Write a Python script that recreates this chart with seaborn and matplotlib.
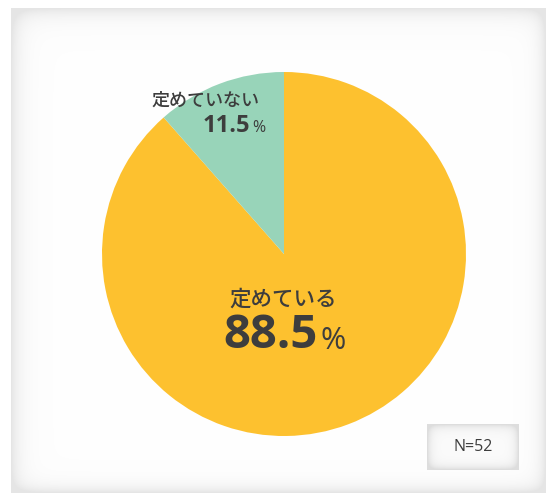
import numpy as np
import matplotlib
matplotlib.use("Agg")
import matplotlib.pyplot as plt
import seaborn as sns

# Survey result: share of respondents
categories = ["定めている", "定めていない"]
shares = [88.5, 11.5]
sample_size = 52
colors = ["#FDC12F", "#98D4B9"]

sns.set_theme(style="white")
plt.rcParams["font.family"] = ["Noto Sans CJK JP", "DejaVu Sans"]
num_font = ["Open Sans", "DejaVu Sans"]

W, H = 550, 495
fig = plt.figure(figsize=(W / 100, H / 100), dpi=100)
fig.patch.set_facecolor("white")


def inset_panel(w, h, depth, edge_gray, inner_gray=1.0):
    """Image of a flat panel with a soft inner shadow along its edges."""
    yy, xx = np.mgrid[0:h, 0:w].astype(float)
    d_left, d_right = xx, w - 1 - xx
    d_top, d_bottom = yy, h - 1 - yy
    shade = (np.exp(-d_left / depth[0]) + np.exp(-d_top / depth[1])
             + np.exp(-d_right / depth[2]) + np.exp(-d_bottom / depth[3]))
    shade = np.clip(shade, 0, 1)
    val = inner_gray - (inner_gray - edge_gray) * shade
    return np.dstack([val, val, val])


# Background panel
px0, py0, px1, py1 = 11, 8, 546, 493
bg = fig.add_axes([px0 / W, 1 - py1 / H, (px1 - px0) / W, (py1 - py0) / H])
bg.imshow(inset_panel(px1 - px0, py1 - py0, (9, 9, 7, 7), 0.90, 0.997),
          aspect="auto", interpolation="bilinear")
bg.set_axis_off()

# Main drawing area in pixel coordinates (y up)
ax = fig.add_axes([0, 0, 1, 1])
ax.patch.set_alpha(0)
cx, cy, r = 284, H - 254, 182
ax.pie(shares, colors=colors, startangle=90, counterclock=False,
       center=(cx, cy), radius=r, wedgeprops=dict(linewidth=0))
ax.set_xlim(0, W)
ax.set_ylim(0, H)
ax.set_aspect("equal")
ax.set_axis_off()

text_color = "#3d3d3d"

# Large slice label
ax.text(283, H - 300, categories[0], ha="center", va="center",
        fontsize=15.5, color=text_color, fontweight="medium")
ax.text(318, H - 336, f"{shares[0]:.1f}", ha="right", va="center",
        fontsize=34, color=text_color, fontweight="bold", family=num_font)
ax.text(320, H - 341, "%", ha="left", va="center",
        fontsize=22, color=text_color, fontweight="medium", family=num_font)

# Small slice label
ax.text(205, H - 101, categories[1], ha="center", va="center",
        fontsize=13, color=text_color, fontweight="medium")
ax.text(250, H - 126, f"{shares[1]:.1f}", ha="right", va="center",
        fontsize=17, color=text_color, fontweight="bold", family=num_font)
ax.text(252, H - 128, "%", ha="left", va="center",
        fontsize=11.5, color=text_color, fontweight="medium", family=num_font)

# Sample size box
bx0, by0, bx1, by1 = 427, 424, 519, 470
box = fig.add_axes([bx0 / W, 1 - by1 / H, (bx1 - bx0) / W, (by1 - by0) / H])
box.imshow(inset_panel(bx1 - bx0, by1 - by0, (4, 4, 4, 4), 0.87, 0.985),
           aspect="auto", interpolation="bilinear")
box.set_axis_off()
box.text(0.5, 0.5, f"N={sample_size}", transform=box.transAxes,
         ha="center", va="center", fontsize=11.5, color=text_color,
         family=num_font)

fig.savefig("out.png", dpi=100, facecolor="white")
